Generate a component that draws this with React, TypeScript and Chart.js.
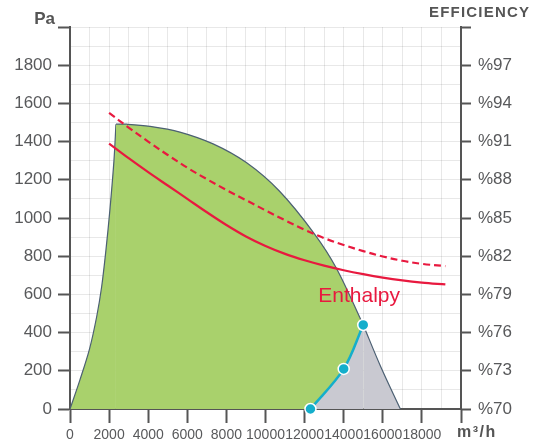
import { useEffect, useRef } from 'react';
import { Chart, registerables } from 'chart.js';

Chart.register(...registerables);

// Fan operating envelope (m³/h vs Pa)
const envelopeLeftX = [0, 500, 1000, 1364, 1619, 1838, 2040, 2250, 2350];
const envelopeLeftPa = [0, 150, 315, 483, 640, 832, 1041, 1303, 1491];
const envelopeTopX = [2350, 2890, 4090, 5620, 7320, 9020, 10720, 12510, 13620, 15000];
const envelopeTopPa = [1491, 1491, 1480, 1450, 1388, 1290, 1140, 916, 738, 440];
const envelopeRightX = [15000, 15900, 16900];
const envelopeRightPa = [440, 220, 0];

// Working curve (cyan)
const workX = [12300, 14000, 15000];
const workPa = [0, 210, 440];

// Efficiency curves (%)
const effX = [2000, 3000, 4000, 5000, 6000, 7000, 8000, 9000, 10000, 11000, 12000, 13000, 14000, 15000, 16000, 17000, 18000, 19200];
const enthalpySolid = [90.85, 89.7, 88.6, 87.55, 86.5, 85.45, 84.45, 83.55, 82.8, 82.18, 81.68, 81.26, 80.9, 80.59, 80.32, 80.1, 79.93, 79.78];
const enthalpyDashed = [93.25, 92.1, 91.0, 89.95, 88.95, 88.05, 87.2, 86.4, 85.6, 84.82, 84.08, 83.42, 82.88, 82.4, 81.98, 81.64, 81.4, 81.22];

// Axes
const xMax = 20000;
const xStep = 1000;
const xLabelStep = 2000;
const paMax = 2000;
const paStep = 100;
const paLabelStep = 200;
const effMin = 70;
const effMax = 100;
const effStep = 3;

const FONT = '"Liberation Sans", Arial, Helvetica, sans-serif';
const TEXT = '#58595b';
const AXIS = '#555555';
const GRID = 'rgba(0,0,0,0.09)';
const GREEN = '#a9d16c';
const GRAY = '#c9c9d1';
const OUTLINE = '#4c6073';
const RED = '#e8193f';
const CYAN = '#14aecb';

const pts = (xs: number[], ys: number[]) => xs.map((x, i) => ({ x, y: ys[i] }));

const textPlugin = {
  id: 'extraText',
  afterDraw(chart: any) {
    const ctx = chart.ctx;
    const a = chart.chartArea;
    const xs = chart.scales.x;
    const ys = chart.scales.y;
    ctx.save();
    ctx.fillStyle = AXIS;
    ctx.textBaseline = 'middle';
    ctx.font = `bold 17px ${FONT}`;
    ctx.textAlign = 'right';
    ctx.fillText('Pa', a.left - 15, a.top - 8);
    ctx.textAlign = 'left';
    ctx.font = `bold 15px ${FONT}`;
    (ctx as any).letterSpacing = '1.2px';
    ctx.fillText('EFFICIENCY', a.right - 32, a.top - 14);
    ctx.font = `bold 16px ${FONT}`;
    (ctx as any).letterSpacing = '1.5px';
    ctx.fillText('m³/h', a.right - 4, a.bottom + 24);
    (ctx as any).letterSpacing = '0px';
    ctx.fillStyle = RED;
    ctx.font = `21px ${FONT}`;
    ctx.textBaseline = 'alphabetic';
    ctx.fillText('Enthalpy', xs.getPixelForValue(12700), ys.getPixelForValue(560));
    ctx.restore();
  },
};

export default function App() {
  const ref = useRef<HTMLCanvasElement>(null);
  useEffect(() => {
    if (!ref.current) return;
    const base = {
      showLine: true,
      pointRadius: 0,
      tension: 0.35,
      fill: 'origin',
    };
    const chart = new Chart(ref.current, {
      type: 'scatter',
      data: {
        datasets: [
          {
            ...base,
            data: pts(workX, workPa),
            borderColor: CYAN,
            borderWidth: 2.5,
            backgroundColor: CYAN,
            fill: false,
            pointRadius: 5.5,
            pointBackgroundColor: CYAN,
            pointBorderColor: '#ffffff',
            pointBorderWidth: 1.5,
            order: 1,
            clip: false,
          } as any,
          {
            ...base,
            data: pts(effX, enthalpySolid),
            yAxisID: 'y2',
            borderColor: RED,
            borderWidth: 2.2,
            fill: false,
            order: 2,
          } as any,
          {
            ...base,
            data: pts(effX, enthalpyDashed),
            yAxisID: 'y2',
            borderColor: RED,
            borderWidth: 2.2,
            borderDash: [7, 4],
            fill: false,
            order: 3,
          } as any,
          {
            ...base,
            data: pts(workX, workPa),
            borderWidth: 0,
            borderColor: 'rgba(0,0,0,0)',
            backgroundColor: GRAY,
            order: 5,
          } as any,
          {
            ...base,
            data: pts(envelopeRightX, envelopeRightPa),
            borderColor: OUTLINE,
            borderWidth: 1.2,
            backgroundColor: GRAY,
            order: 5,
          } as any,
          {
            ...base,
            data: pts(envelopeTopX, envelopeTopPa),
            borderColor: OUTLINE,
            borderWidth: 1.2,
            backgroundColor: GREEN,
            order: 6,
          } as any,
          {
            ...base,
            data: pts(envelopeLeftX, envelopeLeftPa),
            borderColor: OUTLINE,
            borderWidth: 1.2,
            backgroundColor: GREEN,
            order: 6,
          } as any,
        ],
      },
      options: {
        responsive: false,
        animation: false,
        devicePixelRatio: 1,
        layout: { padding: { top: 27, left: 0, right: 0, bottom: 0 } },
        plugins: { legend: { display: false }, tooltip: { enabled: false } },
        scales: {
          x: {
            type: 'linear',
            min: 0,
            max: xMax,
            z: 1,
            afterFit: (s: any) => { s.height = 36; },
            border: { color: AXIS, width: 2 },
            grid: {
              color: GRID,
              lineWidth: 1,
              tickLength: 14,
              tickWidth: 2,
              tickColor: (c: any) => (c.tick && c.tick.value % xLabelStep === 0 ? AXIS : 'rgba(0,0,0,0)'),
            },
            ticks: {
              stepSize: xStep,
              autoSkip: false,
              maxRotation: 0,
              padding: 4,
              color: TEXT,
              font: { family: FONT, size: 14 },
              callback: (v: any) => (v % xLabelStep === 0 && v < xMax ? String(v) : ''),
            },
          },
          y: {
            type: 'linear',
            position: 'left',
            min: 0,
            max: paMax,
            z: 1,
            afterFit: (s: any) => { s.width = 70; },
            border: { color: AXIS, width: 2 },
            grid: {
              color: GRID,
              lineWidth: 1,
              tickLength: 12,
              tickWidth: 2,
              tickColor: (c: any) => (c.tick && c.tick.value % paLabelStep === 0 ? AXIS : 'rgba(0,0,0,0)'),
            },
            ticks: {
              stepSize: paStep,
              autoSkip: false,
              padding: 6,
              color: TEXT,
              font: { family: FONT, size: 17 },
              callback: (v: any) => (v % paLabelStep === 0 && v < paMax ? String(v) : ''),
            },
          },
          y2: {
            type: 'linear',
            position: 'right',
            min: effMin,
            max: effMax,
            z: 1,
            afterFit: (s: any) => { s.width = 80; },
            border: { color: AXIS, width: 2 },
            grid: {
              drawOnChartArea: false,
              tickLength: 10,
              tickWidth: 2,
              tickColor: AXIS,
            },
            ticks: {
              stepSize: effStep,
              autoSkip: false,
              padding: 7,
              color: TEXT,
              font: { family: FONT, size: 17 },
              callback: (v: any) => (v < effMax ? '%' + v : ''),
            },
          },
        },
      } as any,
      plugins: [textPlugin],
    });
    return () => chart.destroy();
  }, []);
  return (
    <div style={{ position: 'fixed', left: 0, top: 0, width: 541, height: 445, background: '#fff' }}>
      <canvas ref={ref} width={541} height={445} />
    </div>
  );
}
